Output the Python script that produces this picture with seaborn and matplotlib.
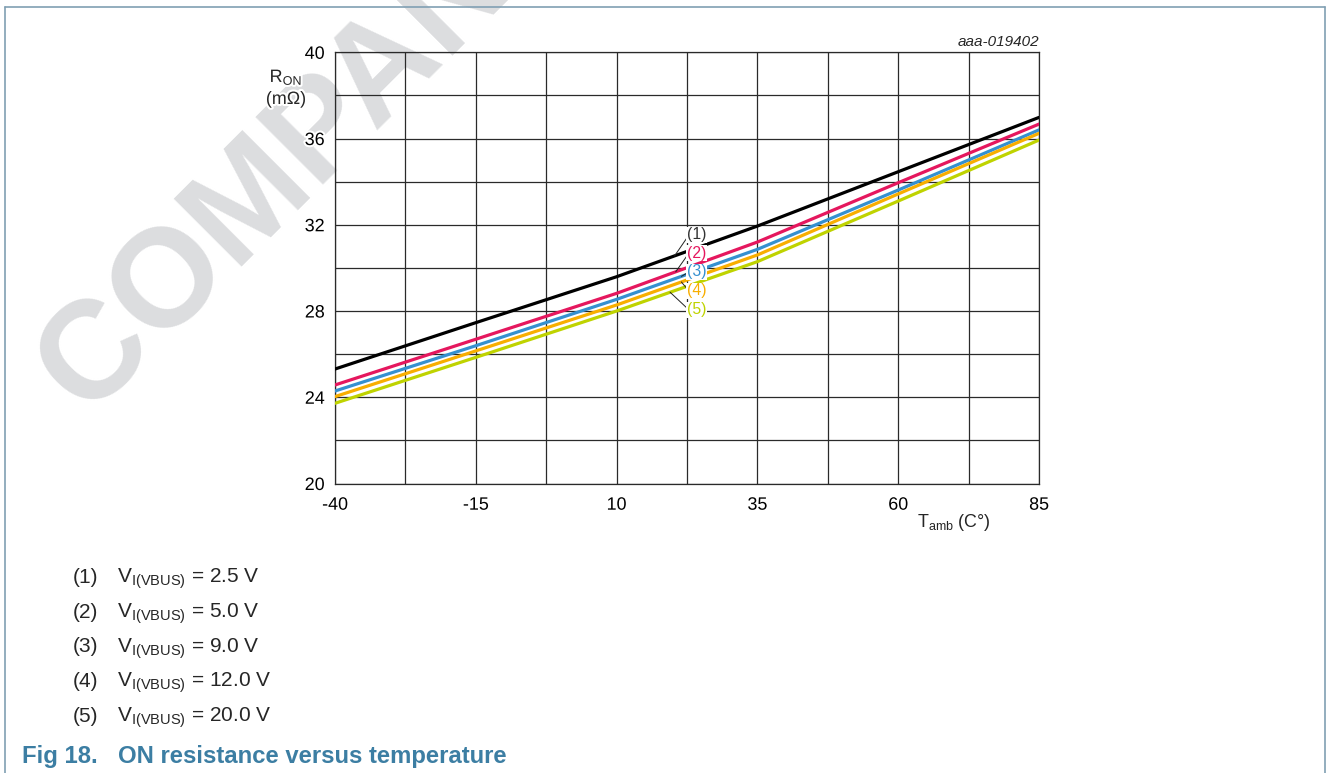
import numpy as np
import pandas as pd
import matplotlib.pyplot as plt
import matplotlib.patheffects as pe
from matplotlib.lines import Line2D
import seaborn as sns

#------Data------

temperature = [-40, -15, 10, 35, 60, 85]

r_on_2v5 = [25.31, 27.46, 29.59, 31.94, 34.46, 36.98]
r_on_5v0 = [24.57, 26.69, 28.82, 31.20, 33.95, 36.67]
r_on_9v0 = [24.29, 26.39, 28.54, 30.86, 33.61, 36.40]
r_on_12v0 = [24.03, 26.15, 28.28, 30.60, 33.43, 36.24]
r_on_20v0 = [23.72, 25.85, 28.00, 30.29, 33.10, 35.93]

series_names = ["(1)", "(2)", "(3)", "(4)", "(5)"]
series_values = [r_on_2v5, r_on_5v0, r_on_9v0, r_on_12v0, r_on_20v0]
legend_voltages = ["2.5 V", "5.0 V", "9.0 V", "12.0 V", "20.0 V"]

x_ticks = [-40, -15, 10, 35, 60, 85]
y_ticks = [20, 24, 28, 32, 36, 40]

# label anchor points (data coords) and where the leader lines touch the curves
label_x = 24.2
label_y = [31.53, 30.69, 29.81, 28.93, 28.05]
leader_t = [20.3, 20.5, 21.5, 21.5, 19.5]

COLORS = ["#000000", "#e5175e", "#3590d0", "#f8ae00", "#bfd300"]
LABEL_COLORS = ["#333333", "#e5175e", "#3590d0", "#f8ae00", "#bfd300"]

#------Style------

sns.set_style("white")
plt.rcParams["font.family"] = ["Liberation Sans", "DejaVu Sans"]
plt.rcParams["mathtext.default"] = "regular"
plt.rcParams["axes.unicode_minus"] = False

W, H = 1329, 773
fig = plt.figure(figsize=(W / 100, H / 100), dpi=100)

def px(x, y):
    return x / W, 1 - y / H

#------Watermark and frame------

fig.text(*px(88, 420), "COMPANY PUBLIC", fontsize=100, fontweight="bold",
         color="#dcdddf", rotation=45, rotation_mode="anchor",
         ha="left", va="baseline", zorder=-10)

frame_color = "#809fb3"
fig.add_artist(Line2D([5 / W, 5 / W], [0, 1 - 7 / H], color=frame_color, lw=1.2))
fig.add_artist(Line2D([5 / W, 1325 / W], [1 - 7 / H, 1 - 7 / H], color=frame_color, lw=1.2))
fig.add_artist(Line2D([1325 / W, 1325 / W], [0, 1 - 7 / H], color=frame_color, lw=1.2))

#------Chart------

left, right = 335 / W, 1039 / W
bottom, top = 1 - 483.5 / H, 1 - 52.3 / H
ax = fig.add_axes([left, bottom, right - left, top - bottom])
ax.set_facecolor("none")

rows = []
for name, vals in zip(series_names, series_values):
    for t, v in zip(temperature, vals):
        rows.append({"T": t, "R": v, "curve": name})
df = pd.DataFrame(rows)

sns.lineplot(data=df, x="T", y="R", hue="curve", palette=COLORS,
             linewidth=2.3, legend=False, ax=ax, zorder=3)

ax.set_xlim(-40, 85)
ax.set_ylim(20, 40)
ax.set_xticks(x_ticks)
ax.set_xticks([-27.5, -2.5, 22.5, 47.5, 72.5], minor=True)
ax.set_yticks(y_ticks)
ax.set_yticks([22, 26, 30, 34, 38], minor=True)
ax.grid(True, which="both", color="#2a2a2a", linewidth=0.9)
ax.set_axisbelow(True)
for s in ax.spines.values():
    s.set_color("#2a2a2a")
    s.set_linewidth(0.9)
ax.tick_params(axis="both", which="both", length=0, labelsize=12.9, colors="black")
ax.tick_params(axis="x", pad=9.5)
ax.tick_params(axis="y", pad=7.5)
ax.set_xlabel("")
ax.set_ylabel("")
for lbl in ax.get_xticklabels() + ax.get_yticklabels():
    lbl.set_path_effects([pe.withStroke(linewidth=3, foreground="white")])

# axis titles
halo = [pe.withStroke(linewidth=3, foreground="white")]
fig.text(*px(286, 82), "R$_{ON}$", fontsize=12.9, ha="center", va="baseline",
         path_effects=halo)
fig.text(*px(286, 104), "(mΩ)", fontsize=12.9, ha="center", va="baseline",
         path_effects=halo)
fig.text(*px(917, 527), "T$_{amb}$ (C°)", fontsize=12.9, ha="left", va="baseline")
fig.text(*px(1039, 46), "aaa-019402", fontsize=11, fontstyle="italic",
         ha="right", va="baseline")

# curve labels with leader lines
for i, name in enumerate(series_names):
    ty = np.interp(leader_t[i], temperature, series_values[i])
    ax.plot([leader_t[i], label_x - 1.35], [ty, label_y[i]], color="#222222",
            lw=0.7, zorder=4)
    ax.text(label_x, label_y[i], name, color=LABEL_COLORS[i], fontsize=11.3,
            ha="center", va="center", zorder=5,
            bbox=dict(boxstyle="square,pad=0.05", fc="white", ec="none"))

#------Legend text and caption------

for i, v in enumerate(legend_voltages):
    yb = 583 + i * 34.67
    fig.text(*px(73, yb), series_names[i], fontsize=15, ha="left", va="baseline")
    fig.text(*px(117, yb), "V$_{I(VBUS)}$ = " + v, fontsize=15, ha="left", va="baseline")

cap_color = "#3c7ea3"
fig.text(*px(22, 763), "Fig 18.", fontsize=17.2, fontweight="bold", color=cap_color,
         ha="left", va="baseline")
fig.text(*px(118, 763), "ON resistance versus temperature", fontsize=17.2,
         fontweight="bold", color=cap_color, ha="left", va="baseline")

fig.savefig("out.png", dpi=100)
